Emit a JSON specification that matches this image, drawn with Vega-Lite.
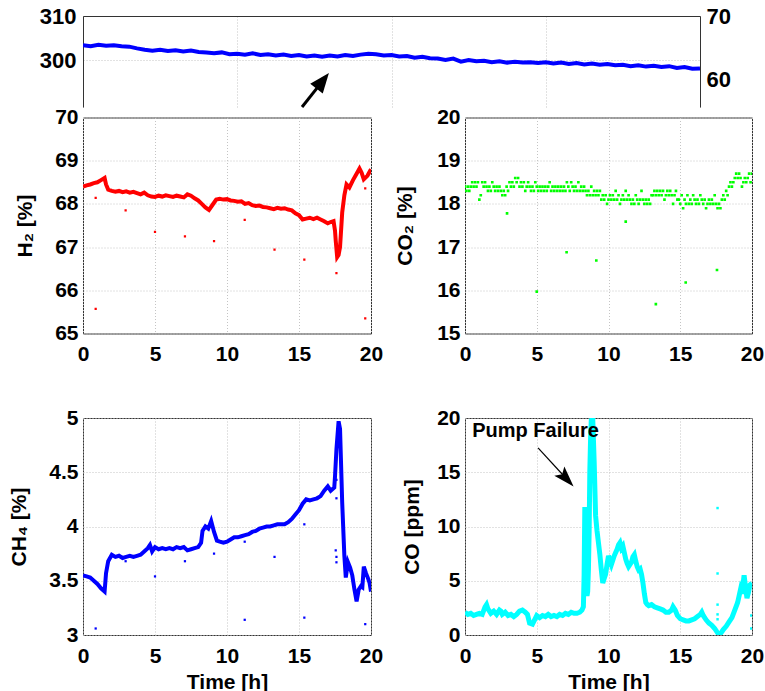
{
"$schema": "https://vega.github.io/schema/vega-lite/v6.json",
"padding": {"left": 8, "top": 5, "right": 0, "bottom": 0},
"background": "white",
"datasets": {
"top": [
{"t":0,"v":303.4},{"t":0.25,"v":303.2},{"t":0.5,"v":303.5},{"t":0.75,"v":303.3},{"t":1,"v":303.4},{"t":1.25,"v":303.2},{"t":1.5,"v":303.1},{"t":1.75,"v":302.7},{"t":2,"v":302.4},{"t":2.25,"v":302.2},{"t":2.5,"v":302.4},{"t":2.75,"v":302.1},{"t":3,"v":302.3},{"t":3.25,"v":302.0},{"t":3.5,"v":302.2},{"t":3.75,"v":301.9},{"t":4,"v":301.8},{"t":4.25,"v":301.6},{"t":4.5,"v":301.8},{"t":4.75,"v":301.4},{"t":5,"v":301.5},{"t":5.25,"v":301.3},{"t":5.5,"v":301.6},{"t":5.75,"v":301.2},{"t":6,"v":301.4},{"t":6.25,"v":301.1},{"t":6.5,"v":301.3},{"t":6.75,"v":301.0},{"t":7,"v":301.2},{"t":7.25,"v":300.9},{"t":7.5,"v":301.1},{"t":7.75,"v":300.8},{"t":8,"v":301.1},{"t":8.25,"v":300.9},{"t":8.5,"v":301.2},{"t":8.75,"v":301.0},{"t":9,"v":301.3},{"t":9.25,"v":301.5},{"t":9.5,"v":301.4},{"t":9.75,"v":301.1},{"t":10,"v":301.2},{"t":10.25,"v":300.9},{"t":10.5,"v":301.0},{"t":10.75,"v":300.6},{"t":11,"v":300.8},{"t":11.25,"v":300.5},{"t":11.5,"v":300.4},{"t":11.75,"v":300.1},{"t":12,"v":300.4},{"t":12.25,"v":299.7},{"t":12.5,"v":300.1},{"t":12.75,"v":299.8},{"t":13,"v":299.9},{"t":13.25,"v":299.6},{"t":13.5,"v":299.8},{"t":13.75,"v":299.5},{"t":14,"v":299.7},{"t":14.25,"v":299.5},{"t":14.5,"v":299.6},{"t":14.75,"v":299.4},{"t":15,"v":299.6},{"t":15.25,"v":299.3},{"t":15.5,"v":299.5},{"t":15.75,"v":299.2},{"t":16,"v":299.4},{"t":16.25,"v":299.1},{"t":16.5,"v":299.3},{"t":16.75,"v":299.0},{"t":17,"v":299.2},{"t":17.25,"v":298.9},{"t":17.5,"v":299.0},{"t":17.75,"v":298.7},{"t":18,"v":298.9},{"t":18.25,"v":298.6},{"t":18.5,"v":298.8},{"t":18.75,"v":298.5},{"t":19,"v":298.7},{"t":19.25,"v":298.3},{"t":19.5,"v":298.5},{"t":19.75,"v":298.1},{"t":20,"v":298.2}
],
"toparrow": [{"t":7.10,"v":289.5,"t2":7.77,"v2":295.4}],
"h2": [
{"t":0,"v":68.40},{"t":0.25,"v":68.43},{"t":0.5,"v":68.45},{"t":0.75,"v":68.48},{"t":1,"v":68.50},{"t":1.25,"v":68.55},{"t":1.5,"v":68.60},{"t":1.6,"v":68.45},{"t":1.75,"v":68.33},{"t":2,"v":68.30},{"t":2.25,"v":68.28},{"t":2.5,"v":68.30},{"t":2.75,"v":68.27},{"t":3,"v":68.29},{"t":3.25,"v":68.26},{"t":3.5,"v":68.28},{"t":3.75,"v":68.25},{"t":4,"v":68.22},{"t":4.25,"v":68.26},{"t":4.5,"v":68.20},{"t":4.75,"v":68.17},{"t":5,"v":68.16},{"t":5.25,"v":68.19},{"t":5.5,"v":68.17},{"t":5.75,"v":68.20},{"t":6,"v":68.18},{"t":6.25,"v":68.16},{"t":6.5,"v":68.19},{"t":6.75,"v":68.17},{"t":7,"v":68.15},{"t":7.25,"v":68.22},{"t":7.5,"v":68.19},{"t":7.75,"v":68.13},{"t":8,"v":68.08},{"t":8.25,"v":68.00},{"t":8.5,"v":67.92},{"t":8.75,"v":67.86},{"t":9,"v":67.98},{"t":9.25,"v":68.10},{"t":9.5,"v":68.12},{"t":9.75,"v":68.10},{"t":10,"v":68.11},{"t":10.25,"v":68.08},{"t":10.5,"v":68.07},{"t":10.75,"v":68.05},{"t":11,"v":68.06},{"t":11.25,"v":68.00},{"t":11.5,"v":68.02},{"t":11.75,"v":67.97},{"t":12,"v":67.95},{"t":12.25,"v":67.96},{"t":12.5,"v":67.93},{"t":12.75,"v":67.92},{"t":13,"v":67.90},{"t":13.25,"v":67.88},{"t":13.5,"v":67.91},{"t":13.75,"v":67.89},{"t":14,"v":67.90},{"t":14.25,"v":67.87},{"t":14.5,"v":67.85},{"t":14.75,"v":67.78},{"t":15,"v":67.74},{"t":15.25,"v":67.64},{"t":15.5,"v":67.66},{"t":15.75,"v":67.68},{"t":16,"v":67.65},{"t":16.25,"v":67.68},{"t":16.5,"v":67.64},{"t":16.75,"v":67.60},{"t":17,"v":67.55},{"t":17.2,"v":67.58},{"t":17.4,"v":67.60},{"t":17.5,"v":67.38},{"t":17.55,"v":67.15},{"t":17.65,"v":66.77},{"t":17.75,"v":66.82},{"t":17.85,"v":67.00},{"t":18,"v":67.80},{"t":18.15,"v":68.20},{"t":18.3,"v":68.45},{"t":18.5,"v":68.38},{"t":18.75,"v":68.55},{"t":19,"v":68.70},{"t":19.2,"v":68.82},{"t":19.35,"v":68.72},{"t":19.5,"v":68.57},{"t":19.75,"v":68.65},{"t":20,"v":68.80}
],
"h2o": [
{"t":0.88,"v":68.14},{"t":0.88,"v":65.57},{"t":2.96,"v":67.85},{"t":5.0,"v":67.35},{"t":7.08,"v":67.25},{"t":9.1,"v":67.14},{"t":11.23,"v":67.63},{"t":13.3,"v":66.94},{"t":15.37,"v":66.71},{"t":17.6,"v":66.40},{"t":19.6,"v":68.36},{"t":19.6,"v":65.35}
],
"co2": [
{"t":0.0,"v":18.4},{"t":0.1,"v":18.3},{"t":0.2,"v":18.4},{"t":0.3,"v":18.3},{"t":0.4,"v":18.4},{"t":0.5,"v":18.5},{"t":0.6,"v":18.4},{"t":0.7,"v":18.5},{"t":0.8,"v":18.4},{"t":0.9,"v":18.5},
{"t":1.0,"v":18.1},{"t":1.1,"v":18.2},{"t":1.2,"v":18.5},{"t":1.3,"v":18.4},{"t":1.4,"v":18.5},{"t":1.5,"v":18.4},{"t":1.6,"v":18.3},{"t":1.7,"v":18.4},{"t":1.8,"v":18.3},{"t":1.9,"v":18.5},
{"t":2.0,"v":18.4},{"t":2.1,"v":18.3},{"t":2.2,"v":18.4},{"t":2.3,"v":18.3},{"t":2.4,"v":18.4},{"t":2.5,"v":18.3},{"t":2.6,"v":18.2},{"t":2.7,"v":18.3},{"t":2.8,"v":18.2},{"t":2.9,"v":18.4},
{"t":3.0,"v":18.3},{"t":3.1,"v":18.5},{"t":3.2,"v":18.4},{"t":3.3,"v":18.5},{"t":3.4,"v":18.4},{"t":3.5,"v":18.6},{"t":3.6,"v":18.5},{"t":3.7,"v":18.6},{"t":3.8,"v":18.4},{"t":3.9,"v":18.5},
{"t":4.0,"v":18.4},{"t":4.1,"v":18.5},{"t":4.2,"v":18.3},{"t":4.3,"v":18.4},{"t":4.4,"v":18.5},{"t":4.5,"v":18.4},{"t":4.6,"v":18.3},{"t":4.7,"v":18.4},{"t":4.8,"v":18.3},{"t":4.9,"v":18.5},
{"t":5.0,"v":18.4},{"t":5.1,"v":18.3},{"t":5.2,"v":18.4},{"t":5.3,"v":18.3},{"t":5.4,"v":18.4},{"t":5.5,"v":18.3},{"t":5.6,"v":18.4},{"t":5.7,"v":18.3},{"t":5.8,"v":18.4},{"t":5.9,"v":18.5},
{"t":6.0,"v":18.3},{"t":6.1,"v":18.4},{"t":6.2,"v":18.3},{"t":6.3,"v":18.4},{"t":6.4,"v":18.3},{"t":6.5,"v":18.4},{"t":6.6,"v":18.3},{"t":6.7,"v":18.4},{"t":6.8,"v":18.3},{"t":6.9,"v":18.4},
{"t":7.0,"v":18.3},{"t":7.1,"v":18.5},{"t":7.2,"v":18.4},{"t":7.3,"v":18.3},{"t":7.4,"v":18.5},{"t":7.5,"v":18.4},{"t":7.6,"v":18.3},{"t":7.7,"v":18.4},{"t":7.8,"v":18.3},{"t":7.9,"v":18.5},
{"t":8.0,"v":18.3},{"t":8.1,"v":18.4},{"t":8.2,"v":18.3},{"t":8.3,"v":18.4},{"t":8.4,"v":18.3},{"t":8.5,"v":18.2},{"t":8.6,"v":18.3},{"t":8.7,"v":18.2},{"t":8.8,"v":18.4},{"t":8.9,"v":18.2},
{"t":9.0,"v":18.3},{"t":9.1,"v":18.2},{"t":9.2,"v":18.3},{"t":9.3,"v":18.2},{"t":9.4,"v":18.3},{"t":9.5,"v":18.1},{"t":9.6,"v":18.2},{"t":9.7,"v":18.1},{"t":9.8,"v":18.2},{"t":9.9,"v":18.0},
{"t":10.0,"v":18.1},{"t":10.1,"v":18.2},{"t":10.2,"v":18.1},{"t":10.3,"v":18.2},{"t":10.4,"v":18.1},{"t":10.5,"v":18.3},{"t":10.6,"v":18.1},{"t":10.7,"v":18.2},{"t":10.8,"v":18.0},{"t":10.9,"v":18.1},
{"t":11.0,"v":18.2},{"t":11.1,"v":18.1},{"t":11.2,"v":18.3},{"t":11.3,"v":18.1},{"t":11.4,"v":18.2},{"t":11.5,"v":18.1},{"t":11.6,"v":18.0},{"t":11.7,"v":18.1},{"t":11.8,"v":18.0},{"t":11.9,"v":18.2},
{"t":12.0,"v":18.1},{"t":12.1,"v":18.0},{"t":12.2,"v":18.1},{"t":12.3,"v":18.3},{"t":12.4,"v":18.1},{"t":12.5,"v":18.0},{"t":12.6,"v":18.1},{"t":12.7,"v":18.0},{"t":12.8,"v":18.1},{"t":12.9,"v":18.0},
{"t":13.0,"v":18.2},{"t":13.1,"v":18.2},{"t":13.2,"v":18.3},{"t":13.3,"v":18.2},{"t":13.4,"v":18.3},{"t":13.5,"v":18.2},{"t":13.6,"v":18.3},{"t":13.7,"v":18.2},{"t":13.8,"v":18.3},{"t":13.9,"v":18.1},
{"t":14.0,"v":18.2},{"t":14.1,"v":18.3},{"t":14.2,"v":18.2},{"t":14.3,"v":18.3},{"t":14.4,"v":18.2},{"t":14.5,"v":18.0},{"t":14.6,"v":18.2},{"t":14.7,"v":18.3},{"t":14.8,"v":18.1},{"t":14.9,"v":18.1},
{"t":15.0,"v":18.0},{"t":15.1,"v":18.2},{"t":15.2,"v":17.9},{"t":15.3,"v":18.1},{"t":15.4,"v":18.0},{"t":15.5,"v":18.2},{"t":15.6,"v":18.0},{"t":15.7,"v":18.1},{"t":15.8,"v":18.0},{"t":15.9,"v":18.2},
{"t":16.0,"v":18.1},{"t":16.1,"v":18.0},{"t":16.2,"v":18.1},{"t":16.3,"v":18.0},{"t":16.4,"v":18.2},{"t":16.5,"v":18.1},{"t":16.6,"v":18.0},{"t":16.7,"v":18.1},{"t":16.8,"v":17.9},{"t":16.9,"v":18.0},
{"t":17.0,"v":18.1},{"t":17.1,"v":18.0},{"t":17.2,"v":18.1},{"t":17.3,"v":18.0},{"t":17.4,"v":18.2},{"t":17.5,"v":18.0},{"t":17.6,"v":17.9},{"t":17.7,"v":18.0},{"t":17.8,"v":17.9},{"t":17.9,"v":18.1},
{"t":18.0,"v":18.2},{"t":18.1,"v":18.1},{"t":18.2,"v":18.3},{"t":18.3,"v":18.2},{"t":18.4,"v":18.4},{"t":18.5,"v":18.5},{"t":18.6,"v":18.4},{"t":18.7,"v":18.5},{"t":18.8,"v":18.6},{"t":18.9,"v":18.7},
{"t":19.0,"v":18.6},{"t":19.1,"v":18.7},{"t":19.2,"v":18.6},{"t":19.3,"v":18.4},{"t":19.4,"v":18.5},{"t":19.5,"v":18.6},{"t":19.6,"v":18.5},{"t":19.7,"v":18.6},{"t":19.8,"v":18.7},{"t":19.9,"v":18.5},
{"t":20.0,"v":18.7},
{"t":2.93,"v":17.78},{"t":5.0,"v":15.97},{"t":7.08,"v":16.88},{"t":9.15,"v":16.69},{"t":11.2,"v":17.59},{"t":13.3,"v":15.68},{"t":15.38,"v":16.18},{"t":17.56,"v":16.47}
],
"ch4": [
{"t":0,"v":3.55},{"t":0.25,"v":3.54},{"t":0.5,"v":3.53},{"t":0.75,"v":3.50},{"t":1,"v":3.47},{"t":1.25,"v":3.43},{"t":1.5,"v":3.40},{"t":1.6,"v":3.57},{"t":1.75,"v":3.68},{"t":2,"v":3.74},{"t":2.25,"v":3.72},{"t":2.5,"v":3.73},{"t":2.75,"v":3.71},{"t":3,"v":3.72},{"t":3.25,"v":3.73},{"t":3.5,"v":3.72},{"t":3.75,"v":3.73},{"t":4,"v":3.74},{"t":4.25,"v":3.77},{"t":4.5,"v":3.80},{"t":4.65,"v":3.83},{"t":4.8,"v":3.77},{"t":5,"v":3.81},{"t":5.25,"v":3.79},{"t":5.5,"v":3.80},{"t":5.75,"v":3.79},{"t":6,"v":3.80},{"t":6.25,"v":3.79},{"t":6.5,"v":3.81},{"t":6.75,"v":3.80},{"t":7,"v":3.81},{"t":7.25,"v":3.78},{"t":7.5,"v":3.79},{"t":7.75,"v":3.80},{"t":8,"v":3.81},{"t":8.2,"v":3.85},{"t":8.3,"v":3.96},{"t":8.5,"v":4.00},{"t":8.7,"v":3.98},{"t":8.9,"v":4.05},{"t":9.1,"v":3.95},{"t":9.3,"v":3.87},{"t":9.5,"v":3.86},{"t":9.75,"v":3.85},{"t":10,"v":3.86},{"t":10.25,"v":3.88},{"t":10.5,"v":3.90},{"t":10.75,"v":3.90},{"t":11,"v":3.91},{"t":11.25,"v":3.92},{"t":11.5,"v":3.93},{"t":11.75,"v":3.95},{"t":12,"v":3.96},{"t":12.25,"v":3.98},{"t":12.5,"v":3.99},{"t":12.75,"v":4.00},{"t":13,"v":4.00},{"t":13.25,"v":4.01},{"t":13.5,"v":4.02},{"t":13.75,"v":4.02},{"t":14,"v":4.02},{"t":14.25,"v":4.04},{"t":14.5,"v":4.07},{"t":14.75,"v":4.11},{"t":15,"v":4.15},{"t":15.25,"v":4.21},{"t":15.5,"v":4.25},{"t":15.75,"v":4.24},{"t":16,"v":4.25},{"t":16.25,"v":4.26},{"t":16.5,"v":4.28},{"t":16.75,"v":4.33},{"t":17,"v":4.37},{"t":17.2,"v":4.33},{"t":17.45,"v":4.36},{"t":17.5,"v":4.46},{"t":17.6,"v":4.71},{"t":17.75,"v":4.97},{"t":17.85,"v":4.90},{"t":18,"v":4.22},{"t":18.15,"v":3.73},{"t":18.25,"v":3.53},{"t":18.4,"v":3.67},{"t":18.55,"v":3.62},{"t":18.7,"v":3.55},{"t":18.85,"v":3.42},{"t":19,"v":3.31},{"t":19.15,"v":3.42},{"t":19.3,"v":3.45},{"t":19.4,"v":3.44},{"t":19.5,"v":3.63},{"t":19.65,"v":3.57},{"t":19.8,"v":3.52},{"t":19.9,"v":3.48},{"t":20,"v":3.40}
],
"ch4o": [
{"t":0.88,"v":3.06},{"t":2.96,"v":3.68},{"t":5.0,"v":3.54},{"t":7.08,"v":3.68},{"t":9.1,"v":3.75},{"t":11.23,"v":3.86},{"t":11.23,"v":3.14},{"t":13.3,"v":3.72},{"t":15.37,"v":4.02},{"t":15.37,"v":3.16},{"t":17.55,"v":3.78},{"t":17.6,"v":3.72},{"t":17.6,"v":3.67},{"t":17.6,"v":4.43},{"t":17.6,"v":4.26},{"t":19.6,"v":3.10}
],
"co": [
{"t":0,"v":2.1},{"t":0.2,"v":1.9},{"t":0.4,"v":2.0},{"t":0.6,"v":1.8},{"t":0.8,"v":1.9},{"t":1.0,"v":2.0},{"t":1.2,"v":1.9},{"t":1.4,"v":2.6},{"t":1.5,"v":2.8},{"t":1.6,"v":2.4},{"t":1.8,"v":2.0},{"t":2.0,"v":2.2},{"t":2.2,"v":1.9},{"t":2.4,"v":2.3},{"t":2.5,"v":2.2},{"t":2.6,"v":1.9},{"t":2.8,"v":2.1},{"t":3.0,"v":1.8},{"t":3.2,"v":1.9},{"t":3.4,"v":1.7},{"t":3.6,"v":1.9},{"t":3.8,"v":2.2},{"t":4.0,"v":2.3},{"t":4.2,"v":2.1},{"t":4.35,"v":1.9},{"t":4.5,"v":1.1},{"t":4.7,"v":1.0},{"t":4.85,"v":1.4},{"t":5.0,"v":1.8},{"t":5.2,"v":1.6},{"t":5.4,"v":1.8},{"t":5.6,"v":1.7},{"t":5.8,"v":1.9},{"t":6.0,"v":1.7},{"t":6.2,"v":1.8},{"t":6.4,"v":1.7},{"t":6.6,"v":1.9},{"t":6.8,"v":1.8},{"t":7.0,"v":2.0},{"t":7.2,"v":1.9},{"t":7.4,"v":2.1},{"t":7.6,"v":2.0},{"t":7.8,"v":2.0},{"t":8.0,"v":2.1},{"t":8.15,"v":2.3},{"t":8.25,"v":2.6},{"t":8.3,"v":5.5},{"t":8.35,"v":11.8},{"t":8.4,"v":10.5},{"t":8.45,"v":6.0},{"t":8.5,"v":3.6},{"t":8.55,"v":4.0},{"t":8.6,"v":6.0},{"t":8.65,"v":9.5},{"t":8.7,"v":15.2},{"t":8.75,"v":18.0},{"t":8.8,"v":19.8},{"t":8.9,"v":20.0},{"t":9.0,"v":16.0},{"t":9.1,"v":11.0},{"t":9.2,"v":9.6},{"t":9.3,"v":8.5},{"t":9.4,"v":7.4},{"t":9.5,"v":6.0},{"t":9.6,"v":4.8},{"t":9.7,"v":5.2},{"t":9.8,"v":5.6},{"t":9.9,"v":6.5},{"t":10.0,"v":7.3},{"t":10.1,"v":6.9},{"t":10.2,"v":6.5},{"t":10.3,"v":6.9},{"t":10.4,"v":7.3},{"t":10.5,"v":7.6},{"t":10.6,"v":7.9},{"t":10.7,"v":8.3},{"t":10.8,"v":8.5},{"t":10.9,"v":8.0},{"t":11.0,"v":8.2},{"t":11.1,"v":7.6},{"t":11.2,"v":7.0},{"t":11.3,"v":6.6},{"t":11.4,"v":6.3},{"t":11.5,"v":6.5},{"t":11.6,"v":6.7},{"t":11.7,"v":7.2},{"t":11.8,"v":7.4},{"t":11.9,"v":6.8},{"t":12.0,"v":6.3},{"t":12.1,"v":6.0},{"t":12.2,"v":6.1},{"t":12.3,"v":5.6},{"t":12.4,"v":4.8},{"t":12.5,"v":3.8},{"t":12.6,"v":3.0},{"t":12.7,"v":2.8},{"t":12.8,"v":2.7},{"t":13.0,"v":2.8},{"t":13.2,"v":2.6},{"t":13.4,"v":2.5},{"t":13.6,"v":2.4},{"t":13.8,"v":2.3},{"t":14.0,"v":2.1},{"t":14.2,"v":2.1},{"t":14.4,"v":2.3},{"t":14.5,"v":2.6},{"t":14.65,"v":2.3},{"t":14.8,"v":1.8},{"t":15.0,"v":1.5},{"t":15.2,"v":1.4},{"t":15.4,"v":1.3},{"t":15.6,"v":1.3},{"t":15.8,"v":1.4},{"t":16.0,"v":1.5},{"t":16.2,"v":1.7},{"t":16.4,"v":1.9},{"t":16.5,"v":2.1},{"t":16.6,"v":1.8},{"t":16.8,"v":1.4},{"t":17.0,"v":1.1},{"t":17.2,"v":0.9},{"t":17.4,"v":0.6},{"t":17.6,"v":0.2},{"t":17.75,"v":0.05},{"t":17.9,"v":0.3},{"t":18.0,"v":0.5},{"t":18.2,"v":0.8},{"t":18.4,"v":1.2},{"t":18.6,"v":1.6},{"t":18.8,"v":2.3},{"t":19.0,"v":3.0},{"t":19.1,"v":3.6},{"t":19.2,"v":4.2},{"t":19.3,"v":3.8},{"t":19.45,"v":5.5},{"t":19.55,"v":4.4},{"t":19.65,"v":3.4},{"t":19.75,"v":3.9},{"t":19.85,"v":4.6},{"t":20.0,"v":4.8}
],
"coo": [
{"t":17.6,"v":11.7},{"t":17.6,"v":5.67},{"t":17.6,"v":2.8},{"t":17.6,"v":1.9},{"t":17.6,"v":1.45},{"t":19.95,"v":0.6},{"t":19.95,"v":1.8}
],
"coann": [{"t":0.5,"v":18.25,"label":"Pump Failure"}],
"coarrow": [{"t":5.09,"v":17.24,"t2":7.07,"v2":14.40}]
},
"vconcat": [
{
"width": 617, "height": 91,
"view": {"stroke": null},
"layer": [
{"layer": [
{"data": {"name": "top"}, "mark": {"type": "line", "color": "#0000ff", "strokeWidth": 4, "clip": true},
"encoding": {
"x": {"field": "t", "type": "quantitative", "title": null, "scale": {"domain": [0, 20], "nice": false}, "axis": {"orient": "top", "values": [0, 5, 10, 15, 20], "labels": false, "domain": true, "domainColor": "#333"}},
"y": {"field": "v", "type": "quantitative", "title": null, "scale": {"domain": [289.5, 310], "nice": false, "zero": false}, "axis": {"values": [300, 310], "domain": true, "domainColor": "#333", "labelFontSize": 22, "labelPadding": 7, "format": "~f"}}}},
{"data": {"name": "toparrow"}, "mark": {"type": "rule", "color": "#000000", "strokeWidth": 3},
"encoding": {"x": {"field": "t", "type": "quantitative", "title": null}, "y": {"field": "v", "type": "quantitative", "title": null}, "x2": {"field": "t2"}, "y2": {"field": "v2"}}},
{"data": {"name": "toparrow"}, "mark": {"type": "point", "shape": "M0,-1L0.8,1L-0.8,1Z", "size": 400, "angle": 38.5, "filled": true, "color": "#000000", "opacity": 1},
"encoding": {"x": {"field": "t2", "type": "quantitative", "title": null}, "y": {"field": "v2", "type": "quantitative", "title": null}}}
]},
{"data": {"values": []}, "mark": {"type": "point", "opacity": 0},
"encoding": {"y": {"field": "r", "type": "quantitative", "title": null, "scale": {"domain": [55.78, 70], "nice": false, "zero": false}, "axis": {"orient": "right", "values": [60, 70], "grid": false, "domain": true, "domainColor": "#333", "labelFontSize": 22, "labelPadding": 6, "format": "~f"}}}}
],
"resolve": {"scale": {"y": "independent"}}
},
{
"hconcat": [
{"vconcat": [
{"width": 288, "height": 216,
"layer": [
{"data": {"name": "h2"}, "mark": {"type": "line", "color": "#ff0000", "strokeWidth": 4, "clip": true},
"encoding": {
"x": {"field": "t", "type": "quantitative", "title": null, "scale": {"domain": [0, 20], "nice": false}, "axis": {"values": [0, 5, 10, 15, 20], "labelPadding": 10, "format": "~f"}},
"y": {"field": "v", "type": "quantitative", "title": "H₂ [%]", "scale": {"domain": [65, 70], "nice": false, "zero": false}, "axis": {"values": [65, 66, 67, 68, 69, 70], "labelPadding": 5, "titlePadding": 19, "format": "~f"}}}},
{"data": {"name": "h2o"}, "mark": {"type": "square", "color": "#ff0000", "size": 5, "opacity": 1, "clip": true},
"encoding": {"x": {"field": "t", "type": "quantitative"}, "y": {"field": "v", "type": "quantitative"}}}
]},
{"width": 288, "height": 217,
"layer": [
{"data": {"name": "ch4"}, "mark": {"type": "line", "color": "#0000ff", "strokeWidth": 4, "clip": true},
"encoding": {
"x": {"field": "t", "type": "quantitative", "title": "Time [h]", "scale": {"domain": [0, 20], "nice": false}, "axis": {"values": [0, 5, 10, 15, 20], "labelPadding": 10, "titlePadding": 5, "format": "~f"}},
"y": {"field": "v", "type": "quantitative", "title": "CH₄ [%]", "scale": {"domain": [3, 5], "nice": false, "zero": false}, "axis": {"values": [3, 3.5, 4, 4.5, 5], "labelPadding": 5, "titlePadding": 19, "format": "~f"}}}},
{"data": {"name": "ch4o"}, "mark": {"type": "square", "color": "#0000ff", "size": 5, "opacity": 1, "clip": true},
"encoding": {"x": {"field": "t", "type": "quantitative"}, "y": {"field": "v", "type": "quantitative"}}}
]}
], "spacing": 40.5},
{"vconcat": [
{"width": 287, "height": 216,
"layer": [
{"data": {"name": "co2"}, "mark": {"type": "square", "color": "#00ff00", "size": 7, "opacity": 1, "clip": true},
"encoding": {
"x": {"field": "t", "type": "quantitative", "title": null, "scale": {"domain": [0, 20], "nice": false}, "axis": {"values": [0, 5, 10, 15, 20], "labelPadding": 10, "format": "~f"}},
"y": {"field": "v", "type": "quantitative", "title": "CO₂ [%]", "scale": {"domain": [15, 20], "nice": false, "zero": false}, "axis": {"values": [15, 16, 17, 18, 19, 20], "labelPadding": 5, "titlePadding": 21, "format": "~f"}}}}
]},
{"width": 287, "height": 217,
"layer": [
{"data": {"name": "co"}, "mark": {"type": "line", "color": "#00ffff", "strokeWidth": 5, "clip": true},
"encoding": {
"x": {"field": "t", "type": "quantitative", "title": "Time [h]", "scale": {"domain": [0, 20], "nice": false}, "axis": {"values": [0, 5, 10, 15, 20], "labelPadding": 10, "titlePadding": 5, "format": "~f"}},
"y": {"field": "v", "type": "quantitative", "title": "CO [ppm]", "scale": {"domain": [0, 20], "nice": false}, "axis": {"values": [0, 5, 10, 15, 20], "labelPadding": 5, "titlePadding": 14, "format": "~f"}}}},
{"data": {"name": "coo"}, "mark": {"type": "square", "color": "#00ffff", "size": 6, "opacity": 1, "clip": true},
"encoding": {"x": {"field": "t", "type": "quantitative"}, "y": {"field": "v", "type": "quantitative"}}},
{"data": {"name": "coarrow"}, "mark": {"type": "rule", "color": "#000000", "strokeWidth": 1.2},
"encoding": {"x": {"field": "t", "type": "quantitative"}, "y": {"field": "v", "type": "quantitative"}, "x2": {"field": "t2"}, "y2": {"field": "v2"}}},
{"data": {"name": "coarrow"}, "mark": {"type": "point", "shape": "M0,-1L0.65,1L0,0.6L-0.65,1Z", "size": 441, "angle": 137.3, "filled": true, "color": "#000000", "opacity": 1},
"encoding": {"x": {"field": "t2", "type": "quantitative"}, "y": {"field": "v2", "type": "quantitative"}}},
{"data": {"name": "coann"}, "mark": {"type": "text", "align": "left", "baseline": "alphabetic", "font": "Liberation Sans", "fontSize": 20, "fontWeight": "bold", "color": "#000000"},
"encoding": {"x": {"field": "t", "type": "quantitative"}, "y": {"field": "v", "type": "quantitative"}, "text": {"field": "label"}}}
]}
], "spacing": 40.5}
],
"spacing": 10
}
],
"spacing": -3.5,
"config": {
"font": "Liberation Sans",
"view": {"stroke": "#333333", "strokeWidth": 1},
"axis": {
"labelFont": "Liberation Sans", "labelFontSize": 21, "labelFontWeight": "bold", "labelColor": "#000000",
"titleFont": "Liberation Sans", "titleFontSize": 21, "titleFontWeight": "bold", "titleColor": "#000000",
"ticks": false, "tickSize": 0, "domain": false, "grid": true, "gridColor": "#c4c4c4", "gridDash": [1, 2], "gridWidth": 1,
"labelFlush": false, "labelOverlap": false, "labelBound": false
}
}
}
